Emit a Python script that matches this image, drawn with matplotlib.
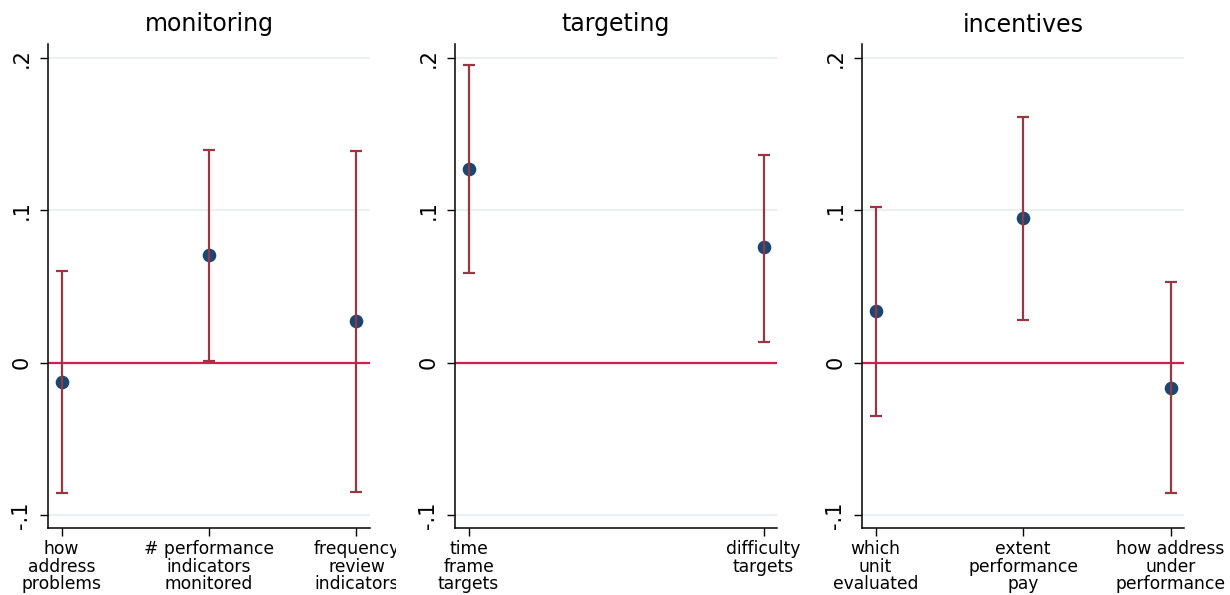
import matplotlib
matplotlib.use("Agg")
import matplotlib.pyplot as plt
from matplotlib.transforms import Bbox, TransformedBbox

# Coefficients and 95% confidence bounds, grouped by management dimension
panel_titles = ["monitoring", "targeting", "incentives"]

monitoring_labels = ["how\naddress\nproblems", "# performance\nindicators\nmonitored", "frequency\nreview\nindicators"]
monitoring_coef = [-0.0129, 0.0708, 0.0270]
monitoring_lo = [-0.0857, 0.0013, -0.0850]
monitoring_hi = [0.0603, 0.1392, 0.1385]

targeting_labels = ["time\nframe\ntargets", "difficulty\ntargets"]
targeting_coef = [0.1267, 0.0755]
targeting_lo = [0.0584, 0.0138]
targeting_hi = [0.1950, 0.1360]

incentives_labels = ["which\nunit\nevaluated", "extent\nperformance\npay", "how address\nunder\nperformance"]
incentives_coef = [0.0335, 0.0947, -0.0166]
incentives_lo = [-0.0352, 0.0282, -0.0858]
incentives_hi = [0.1020, 0.1610, 0.0527]

y_ticks = [-0.1, 0.0, 0.1, 0.2]
y_ticklabels = ["-.1", "0", ".1", ".2"]

panels = [
    (monitoring_labels, monitoring_coef, monitoring_lo, monitoring_hi),
    (targeting_labels, targeting_coef, targeting_lo, targeting_hi),
    (incentives_labels, incentives_coef, incentives_lo, incentives_hi),
]

W, H = 1230, 595
fig = plt.figure(figsize=(W / 100, H / 100), dpi=100)

NAVY = "#1a476f"
MAROON = "#953843"
CRANBERRY = "#d41c4f"
GRID = "#eaf0f1"

ax_lefts = [48, 455, 862]
ax_width = 322
ax_top, ax_bottom = 44, 528
clip_right = [396, 806, 1228]
clip_left = [0, 402, 812]
pad_px = 13.5

for i, (labels, coef, lo, hi) in enumerate(panels):
    ax = fig.add_axes([ax_lefts[i] / W, 1 - ax_bottom / H, ax_width / W, (ax_bottom - ax_top) / H])
    n = len(labels)
    x = list(range(n))
    span = (ax_width - 2 * pad_px) / max(n - 1, 1)
    pad = pad_px / span
    ax.set_xlim(-pad, (n - 1) + pad)
    ax.set_ylim(-0.1085, 0.2089)

    for yv in y_ticks:
        ax.axhline(yv, color=GRID, lw=1.5, zorder=0)
    ax.axhline(0, color=CRANBERRY, lw=1.6, zorder=1)

    ax.plot(x, coef, "o", color=NAVY, ms=8.8, mec=NAVY, zorder=2, ls="none")
    yerr = [[c - l for c, l in zip(coef, lo)], [h - c for c, h in zip(coef, hi)]]
    ax.errorbar(x, coef, yerr=yerr, fmt="none", ecolor=MAROON, elinewidth=1.6,
                capsize=4, capthick=1.6, zorder=3)

    ax.set_yticks(y_ticks)
    ax.set_yticklabels(y_ticklabels, rotation=90, va="center", fontsize=15)
    ax.set_xticks(x)
    ax.set_xticklabels(labels, fontsize=12.3, linespacing=0.93)
    ax.tick_params(axis="y", length=6, width=1, pad=6)
    ax.tick_params(axis="x", length=6, width=1, pad=3)
    for s in ["top", "right"]:
        ax.spines[s].set_visible(False)
    for s in ["left", "bottom"]:
        ax.spines[s].set_linewidth(1.1)
    ax.set_title(panel_titles[i], fontsize=17, pad=9)

    clip = TransformedBbox(Bbox([[clip_left[i] / W, 0], [clip_right[i] / W, 1]]), fig.transFigure)
    for lab in ax.get_xticklabels():
        lab.set_clip_on(True)
        lab.set_clip_box(clip)

fig.savefig("out.png", dpi=100, facecolor="white")
